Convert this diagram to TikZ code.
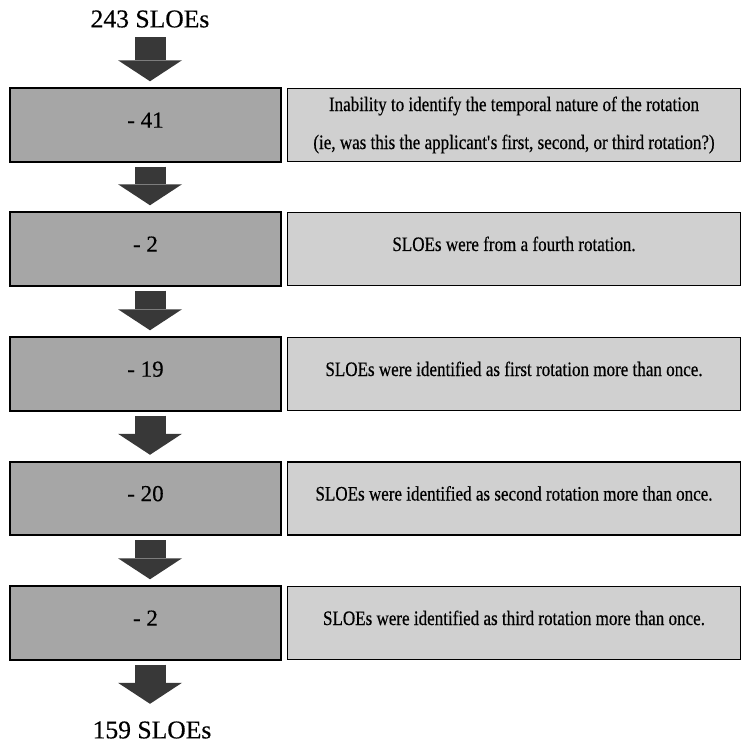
\documentclass[tikz,border=0pt]{standalone}
\usepackage{fontspec}
\setmainfont[FakeBold=0.4]{Liberation Serif}
\newfontfamily\narrowserif[FakeStretch=0.83,FakeBold=0.45]{Liberation Serif}
\usetikzlibrary{calc,arrows.meta}
\definecolor{cutgray}{HTML}{A6A6A6}
\definecolor{reasongray}{HTML}{D0D0D0}
\definecolor{arrowgray}{HTML}{383838}

\begin{document}
\begin{tikzpicture}[x=0.75pt,y=-0.75pt,
    cut/.style={draw,line width=1.6pt,fill=cutgray,minimum width=203pt,minimum height=55pt,inner sep=0pt,
        font=\fontsize{17.2}{20}\selectfont,text height=12pt,text depth=8pt},
    reason/.style={draw,line width=1.2pt,fill=reasongray,minimum width=340pt,minimum height=55pt,inner sep=0pt,
        align=center,font=\narrowserif\fontsize{15.4}{18}\selectfont,text height=11pt,text depth=8pt},
    total/.style={inner sep=1pt,font=\fontsize{19.2}{22}\selectfont},
    flow/.style={arrowgray,line width=23.25pt,-{Triangle[width=48pt,length=15.75pt,line width=0pt]},
        shorten <=3pt,shorten >=4.5pt}]
    \useasboundingbox (0,0) rectangle (750,755);
    \node[total] (start) at (150,19) {243 SLOEs};
    % excluded counts on the left, reasons on the right
    \node[cut] (cut1) at (145.5,125) {- 41};
    \node[reason,text height=,text depth=] (why1) at (514,125)
        {Inability to identify the temporal nature of the rotation\\[10.5pt]
         (ie, was this the applicant\textquotesingle s first, second, or third rotation?)};
    \node[cut] (cut2) at (145.5,249) {- 2};
    \node[reason] (why2) at (514,249) {SLOEs were from a fourth rotation.};
    \node[cut] (cut3) at (145.5,374) {- 19};
    \node[reason] (why3) at (514,374) {SLOEs were identified as first rotation more than once.};
    \node[cut] (cut4) at (145.5,498.5) {- 20};
    \node[reason] (why4) at (514,498.5) {SLOEs were identified as second rotation more than once.};
    \node[cut] (cut5) at (145.5,623) {- 2};
    \node[reason] (why5) at (514,623) {SLOEs were identified as third rotation more than once.};
    \node[total] (final) at (152,730) {159 SLOEs};
    % block arrows, all straight down at the same x
    \draw[flow,shorten <=6pt] (start.south) -- ($(cut1.north)+(4.5,0)$);
    \foreach \a/\b in {1/2,2/3,3/4,4/5}
        \draw[flow] ($(cut\a.south)+(4.5,0)$) -- ($(cut\b.north)+(4.5,0)$);
    \coordinate (out) at ($(cut5.south)+(4.5,0)$);
    \draw[flow,shorten >=12pt] (out) -- (out |- final.north);
\end{tikzpicture}
\end{document}
